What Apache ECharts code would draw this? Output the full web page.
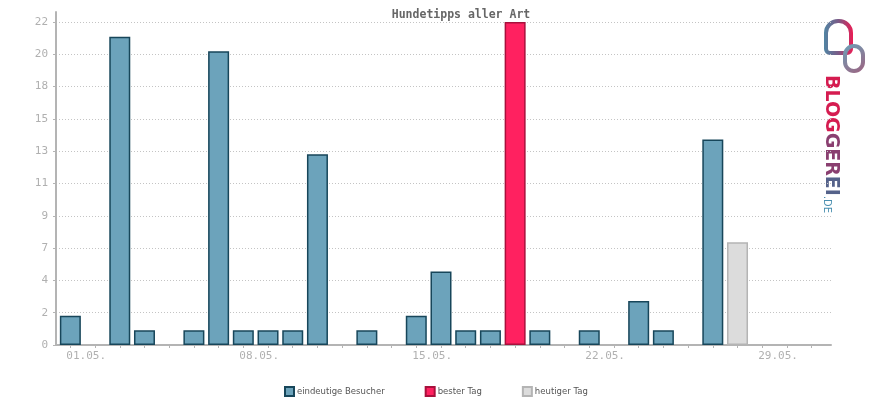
<!DOCTYPE html>
<html>
<head>
<meta charset="utf-8">
<script src="https://cdn.jsdelivr.net/npm/echarts@6/dist/echarts.min.js"></script>
<style>html,body{margin:0;padding:0;background:#fff}#c{width:870px;height:400px}</style>
</head>
<body>
<div id="c"></div>
<script>
// ---- data ----
var title = 'Hundetipps aller Art';
var categories = ['01.05.','02.05.','03.05.','04.05.','05.05.','06.05.','07.05.','08.05.','09.05.','10.05.',
  '11.05.','12.05.','13.05.','14.05.','15.05.','16.05.','17.05.','18.05.','19.05.','20.05.',
  '21.05.','22.05.','23.05.','24.05.','25.05.','26.05.','27.05.','28.05.','29.05.','30.05.','31.05.'];
var besucher    = [2,0,21,1,0,1,20,1,1,1, 13,0,1,0,2,5,1,1,'-',1, 0,1,0,3,1,0,14,'-',0,0,0];
var besterTag   = ['-','-','-','-','-','-','-','-','-','-', '-','-','-','-','-','-','-','-',22,'-', '-','-','-','-','-','-','-','-','-','-','-'];
var heutigerTag = ['-','-','-','-','-','-','-','-','-','-', '-','-','-','-','-','-','-','-','-','-', '-','-','-','-','-','-','-',7,'-','-','-'];
var seriesNames = ['eindeutige Besucher','bester Tag','heutiger Tag'];
var yMax = 22, yInterval = 2.2;

// zero days draw no bar
function drawable(arr){ return arr.map(function(v){ return v === 0 ? '-' : v; }); }

var chart = echarts.init(document.getElementById('c'), null, {renderer:'canvas'});
var axisGrey = '#b4b4b4';
var labelFont = {fontFamily:'DejaVu Sans Mono', fontSize:11, color:'#b0b0b0'};

chart.setOption({
  animation:false,
  backgroundColor:'#ffffff',
  title:{text:title, left:456, top:4, textAlign:'center',
    textStyle:{fontFamily:'DejaVu Sans Mono', fontSize:11.5, fontWeight:'bold', color:'#666666'}},
  legend:{left:284, top:386, padding:0, itemWidth:9, itemHeight:9, itemGap:40, icon:'rect',
    textStyle:{fontFamily:'DejaVu Sans', fontSize:8.5, color:'#555555', padding:[0,0,0,-2]},
    data:seriesNames},
  grid:[
    {left:56, right:39, top:22, bottom:55},
    {left:56, right:39, top:12, bottom:55},
    {left:58, width:766, top:22, bottom:55}
  ],
  xAxis:[
    {gridIndex:0, type:'value', min:0, max:1, axisLine:{show:true, lineStyle:{color:axisGrey, width:2}},
      axisTick:{show:false}, axisLabel:{show:false}, splitLine:{show:false}},
    {gridIndex:1, type:'value', min:0, max:1, show:false},
    {gridIndex:2, type:'category', data:categories, boundaryGap:true,
      axisLine:{show:false},
      axisTick:{show:true, alignWithLabel:true, interval:0, length:3, lineStyle:{color:axisGrey}},
      axisLabel:Object.assign({interval:6, margin:6, align:'left', padding:[0,0,0,-4]}, labelFont),
      splitLine:{show:false}}
  ],
  yAxis:[
    {gridIndex:0, type:'value', min:0, max:yMax, interval:yInterval,
      axisLine:{show:false},
      axisTick:{show:true, length:3, lineStyle:{color:axisGrey}},
      axisLabel:Object.assign({margin:8, formatter:function(v){return String(Math.round(v));}}, labelFont),
      splitLine:{show:true, lineStyle:{type:[1,2], color:'#c4c4c4', width:1}}},
    {gridIndex:1, type:'value', min:0, max:1, axisLine:{show:true, lineStyle:{color:axisGrey, width:2}},
      axisTick:{show:false}, axisLabel:{show:false}, splitLine:{show:false}},
    {gridIndex:2, type:'value', min:0, max:yMax, show:false, splitLine:{show:false}}
  ],
  series:[
    {name:seriesNames[0], type:'bar', xAxisIndex:2, yAxisIndex:2, stack:'s', barWidth:21, data:drawable(besucher),
      itemStyle:{color:'#6ca3bb', borderColor:'#17465a', borderWidth:1.5}},
    {name:seriesNames[1], type:'bar', xAxisIndex:2, yAxisIndex:2, stack:'s', barWidth:21, data:drawable(besterTag),
      itemStyle:{color:'#ff2160', borderColor:'#a8103c', borderWidth:1.5}},
    {name:seriesNames[2], type:'bar', xAxisIndex:2, yAxisIndex:2, stack:'s', barWidth:21, data:drawable(heutigerTag),
      itemStyle:{color:'#dcdcdc', borderColor:'#b4b4b4', borderWidth:1.5}}
  ],
  graphic:[
    {type:'rect', shape:{x:826, y:21, width:25, height:32, r:[12,12,4,4]},
      style:{fill:'none', lineWidth:4,
        stroke:new echarts.graphic.LinearGradient(0,0,1,0,[{offset:0,color:'#4f86a4'},{offset:0.5,color:'#7a5a86'},{offset:1,color:'#ee1a52'}])}},
    {type:'rect', shape:{x:845, y:46, width:18, height:25, r:9},
      style:{fill:'none', lineWidth:4,
        stroke:new echarts.graphic.LinearGradient(0,0,1,1,[{offset:0,color:'#6aa3ba'},{offset:1,color:'#a0607e'}])}},
    {type:'text', x:831, y:75, rotation:-Math.PI/2,
      style:{text:'{a|BLOG}{b|GER}{c|EI}{d|.DE}', textAlign:'left', textVerticalAlign:'middle',
        rich:{
          a:{fontFamily:'DejaVu Sans', fontWeight:'bold', fontSize:19, fill:'#d51c50'},
          b:{fontFamily:'DejaVu Sans', fontWeight:'bold', fontSize:19, fill:'#8a3f70'},
          c:{fontFamily:'DejaVu Sans', fontWeight:'bold', fontSize:19, fill:'#55628a'},
          d:{fontFamily:'DejaVu Sans', fontSize:10, fill:'#4a8fb0', verticalAlign:'bottom'}
        }}}
  ]
});
</script>
</body>
</html>
